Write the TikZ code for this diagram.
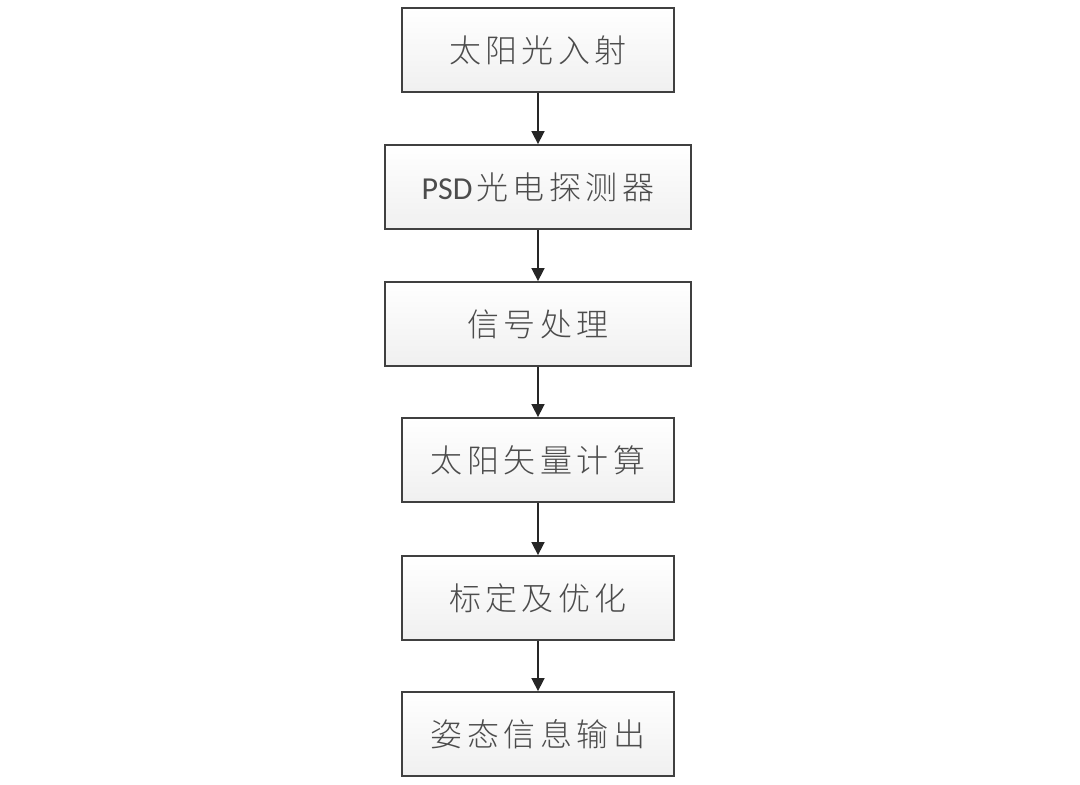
\documentclass[tikz,border=0pt]{standalone}
\usepackage{fontspec}
\newfontfamily\cjk{Noto Sans CJK SC Light}[LetterSpace=14]
\setmainfont{Carlito}
\usetikzlibrary{arrows.meta}
\begin{document}
\begin{tikzpicture}[x=1pt,y=-1pt,
 box/.style={draw=black!75,line width=1.8pt,top color=white,bottom color=black!6,minimum height=84pt,inner sep=0pt,font=\fontsize{32}{36}\selectfont\color{black!70}},
 narrow/.style={box,minimum width=272pt},
 wide/.style={box,minimum width=306pt},
 arr/.style={draw=black!85,line width=1.6pt,-{Triangle[length=13pt,width=13pt]}}]
\useasboundingbox (0,0) rectangle (1080,785);
\node[narrow] (a) at (538,50) {\cjk 太阳光入射};
\node[wide] (b) at (538,187) {PSD\kern4pt{\cjk 光电探测器}};
\node[wide] (c) at (538,324) {\cjk 信号处理};
\node[narrow] (d) at (538,460) {\cjk 太阳矢量计算};
\node[narrow] (e) at (538,598) {\cjk 标定及优化};
\node[narrow] (f) at (538,734) {\cjk 姿态信息输出};
\foreach \u/\v in {a/b,b/c,c/d,d/e,e/f} \draw[arr] (\u) -- (\v);
\end{tikzpicture}
\end{document}
